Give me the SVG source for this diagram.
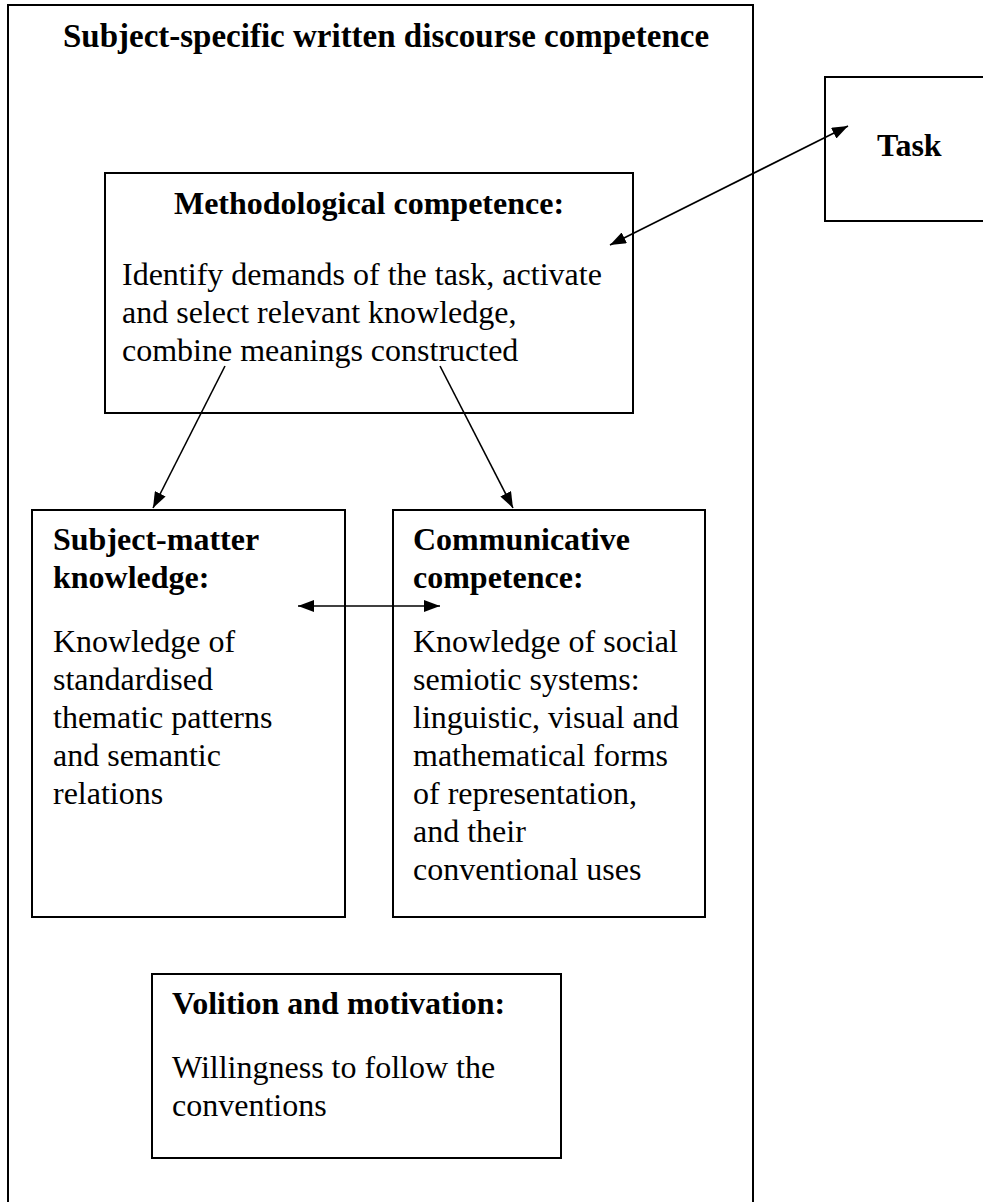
<svg xmlns="http://www.w3.org/2000/svg" width="983" height="1202" viewBox="0 0 983 1202">
<style>
.box{fill:#fff;stroke:#000;stroke-width:2}
.outer{fill:none;stroke:#000;stroke-width:2}
.t{font-family:"Liberation Serif","Times New Roman",serif;font-size:32px;fill:#000}
.b{font-weight:bold}
.h{font-size:33px}
.c{stroke:#000;stroke-width:1.6;fill:none}
</style>
<defs>
<marker id="ah" viewBox="0 0 16 12" markerWidth="16" markerHeight="12" refX="16" refY="6" orient="auto-start-reverse" markerUnits="userSpaceOnUse">
<path d="M0,0 L16,6 L0,12 z" fill="#000"/>
</marker>
</defs>
<rect x="0" y="0" width="983" height="1202" fill="#fff"/>
<g id="outer">
<rect class="outer" x="8" y="5" width="745" height="1260"/>
<text class="t b h" x="386" y="47" text-anchor="middle">Subject-specific written discourse competence</text>
</g>
<g id="task">
<rect class="box" x="825" y="77" width="200" height="144"/>
<text class="t b" x="877" y="156">Task</text>
</g>
<g id="methodological">
<rect class="box" x="105" y="173" width="528" height="240"/>
<text class="t b" x="369" y="214" text-anchor="middle">Methodological competence:</text>
<text class="t" x="122" y="285">Identify demands of the task, activate</text>
<text class="t" x="122" y="323">and select relevant knowledge,</text>
<text class="t" x="122" y="361">combine meanings constructed</text>
</g>
<g id="subject-matter">
<rect class="box" x="32" y="510" width="313" height="407"/>
<text class="t b" x="53" y="550">Subject-matter</text>
<text class="t b" x="53" y="588">knowledge:</text>
<text class="t" x="53" y="652">Knowledge of</text>
<text class="t" x="53" y="690">standardised</text>
<text class="t" x="53" y="728">thematic patterns</text>
<text class="t" x="53" y="766">and semantic</text>
<text class="t" x="53" y="804">relations</text>
</g>
<g id="communicative">
<rect class="box" x="393" y="510" width="312" height="407"/>
<text class="t b" x="413" y="550">Communicative</text>
<text class="t b" x="413" y="588">competence:</text>
<text class="t" x="413" y="652">Knowledge of social</text>
<text class="t" x="413" y="690">semiotic systems:</text>
<text class="t" x="413" y="728">linguistic, visual and</text>
<text class="t" x="413" y="766">mathematical forms</text>
<text class="t" x="413" y="804">of representation,</text>
<text class="t" x="413" y="842">and their</text>
<text class="t" x="413" y="880">conventional uses</text>
</g>
<g id="volition">
<rect class="box" x="152" y="974" width="409" height="184"/>
<text class="t b" x="172" y="1014">Volition and motivation:</text>
<text class="t" x="172" y="1078">Willingness to follow the</text>
<text class="t" x="172" y="1116">conventions</text>
</g>
<g id="connectors">
<line class="c" x1="610" y1="245" x2="848" y2="126" marker-start="url(#ah)" marker-end="url(#ah)"/>
<line class="c" x1="225" y1="366" x2="153" y2="508" marker-end="url(#ah)"/>
<line class="c" x1="440" y1="366" x2="513" y2="508" marker-end="url(#ah)"/>
<line class="c" x1="298" y1="606" x2="440" y2="606" marker-start="url(#ah)" marker-end="url(#ah)"/>
</g>
</svg>
